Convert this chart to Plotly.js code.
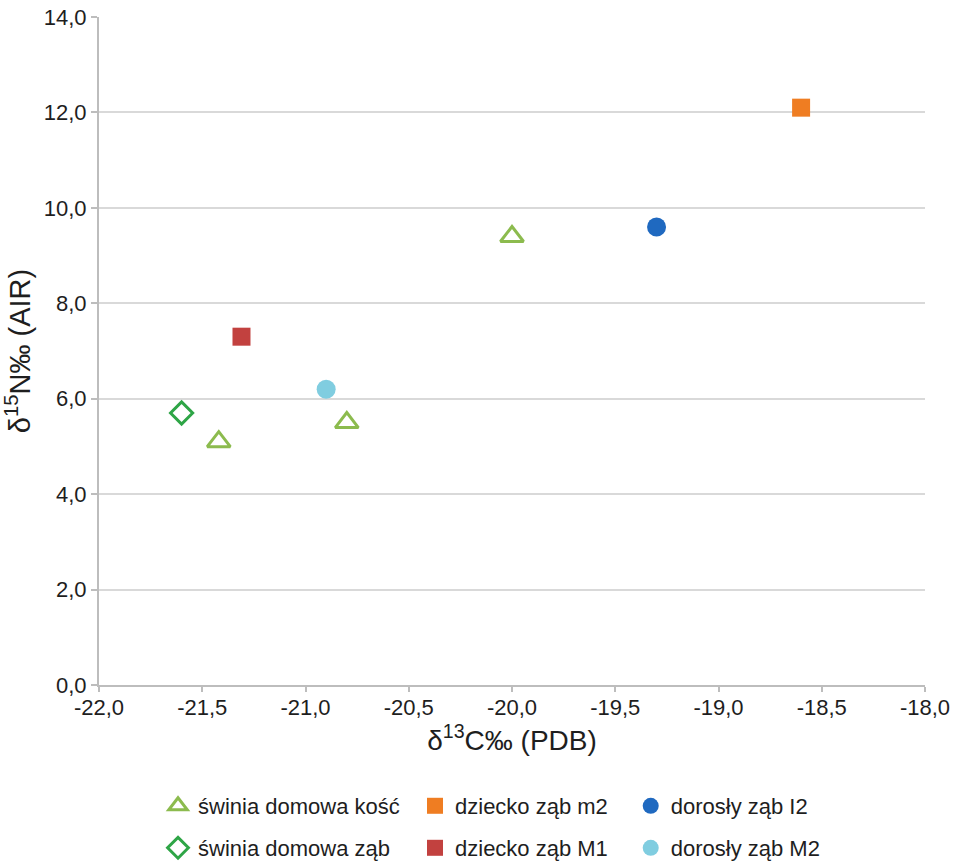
<!DOCTYPE html>
<html><head><meta charset="utf-8">
<script src="https://cdn.plot.ly/plotly-3.0.1.min.js"></script>
<style>body{margin:0;background:#fff}#chart{width:960px;height:861px}</style>
</head><body><div id="chart"></div>
<script>
const seriesNames = ["świnia domowa kość","dziecko ząb m2","dorosły ząb I2","świnia domowa ząb","dziecko ząb M1","dorosły ząb M2"];
const swiniaKoscX = [-21.42, -20.80, -20.0];
const swiniaKoscY = [5.1, 5.5, 9.4];
const dzieckoM2X = [-18.6];
const dzieckoM2Y = [12.1];
const doroslyI2X = [-19.3];
const doroslyI2Y = [9.6];
const swiniaZabX = [-21.6];
const swiniaZabY = [5.7];
const dzieckoM1X = [-21.31];
const dzieckoM1Y = [7.3];
const doroslyM2X = [-20.9];
const doroslyM2Y = [6.2];
const xTickVals = [-22,-21.5,-21,-20.5,-20,-19.5,-19,-18.5,-18];
const xTickText = ["-22,0","-21,5","-21,0","-20,5","-20,0","-19,5","-19,0","-18,5","-18,0"];
const yTickVals = [0,2,4,6,8,10,12,14];
const yTickText = ["0,0","2,0","4,0","6,0","8,0","10,0","12,0","14,0"];

const xs = [swiniaKoscX,dzieckoM2X,doroslyI2X,swiniaZabX,dzieckoM1X,doroslyM2X];
const ys = [swiniaKoscY,dzieckoM2Y,doroslyI2Y,swiniaZabY,dzieckoM1Y,doroslyM2Y];
const styles = [
  {symbol:"triangle-up-open", color:"#8cbb4e", size:20, line:{width:3, color:"#8cbb4e"}},
  {symbol:"square", color:"#ef7d22", size:18, line:{width:0}},
  {symbol:"circle", color:"#1f69c0", size:19, line:{width:0}},
  {symbol:"diamond-open", color:"#2ea546", size:17, line:{width:3, color:"#2ea546"}},
  {symbol:"square", color:"#c2413f", size:18, line:{width:0}},
  {symbol:"circle", color:"#80cde0", size:19, line:{width:0}}
];
const legendIds = ["legend","legend2","legend3","legend4","legend5","legend6"];
const legendX = [0.1646, 0.4323, 0.657, 0.1646, 0.4323, 0.657];
const legendY = [0.0639, 0.0639, 0.0639, 0.0151, 0.0151, 0.0151];
const data = seriesNames.map((n,i)=>({
  type:"scatter", mode:"markers", name:n, x:xs[i], y:ys[i],
  marker:styles[i], legend: legendIds[i], cliponaxis:false
}));
const layout = {
  width:960, height:861,
  margin:{l:99, r:35, t:17, b:176, autoexpand:false},
  paper_bgcolor:"#fff", plot_bgcolor:"#fff",
  font:{family:"Liberation Sans, Arial, sans-serif", color:"#1e1e1e"},
  showlegend:true,
  xaxis:{range:[-22,-18], tickvals:xTickVals, ticktext:xTickText, showgrid:false, zeroline:false,
    showline:true, linecolor:"#bdbdbd", linewidth:2, ticks:"outside", ticklen:5, tickcolor:"#bdbdbd", tickwidth:2,
    ticklabelstandoff:-3,
    tickfont:{size:22, color:"#1e1e1e"},
    title:{text:"δ<sup>13</sup>C‰ (PDB)", font:{size:28, color:"#1e1e1e"}, standoff:10}},
  yaxis:{range:[0,14], tickvals:yTickVals, ticktext:yTickText, showgrid:true, gridcolor:"#d9d9d9", gridwidth:1.5, zeroline:false,
    showline:true, linecolor:"#bdbdbd", linewidth:2, ticks:"outside", ticklen:6, tickcolor:"#bdbdbd", tickwidth:2,
    tickfont:{size:22, color:"#1e1e1e"},
    title:{text:"δ<sup>15</sup>N‰ (AIR)", font:{size:29, color:"#1e1e1e"}, standoff:10}}
};
legendIds.forEach((id,i)=>{
  layout[id] = {xref:"container", yref:"container", x:legendX[i], y:legendY[i], xanchor:"left", yanchor:"middle",
    orientation:"h", font:{family:"Liberation Sans, Arial, sans-serif", size:22, color:"#1e1e1e"},
    bgcolor:"rgba(0,0,0,0)", itemwidth:30};
});
Plotly.newPlot("chart", data, layout, {displayModeBar:false});
</script></body></html>
